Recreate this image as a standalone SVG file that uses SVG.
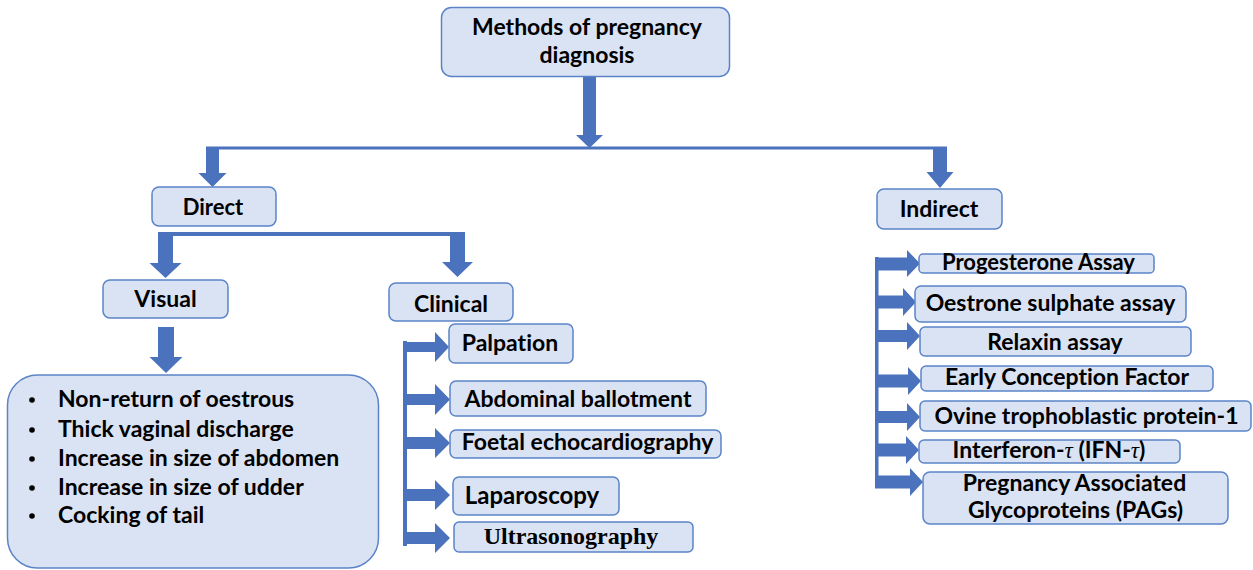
<svg xmlns="http://www.w3.org/2000/svg" width="1253" height="570" viewBox="0 0 1253 570">
<style>
.box{fill:#DAE3F3;stroke:#5B84C8;stroke-width:1.5}
.arr{fill:#4A72BD}
text{font-family:Lato,"Liberation Sans",sans-serif;font-weight:bold;fill:#000;font-size:23px;text-anchor:middle;font-variant-ligatures:none;font-feature-settings:"liga" 0,"clig" 0}
.st{text-anchor:start}
.serif{font-family:"Liberation Serif",serif;font-size:24px}
.tau{font-family:"Liberation Serif",serif;font-style:italic;font-weight:normal}
</style>
<rect width="1253" height="570" fill="#fff"/>
<g id="connectors" class="arr">
<polygon points="583,77 596,77 596,135 603,135 589.5,148 576,135 583,135"/>
<rect x="206" y="146.5" width="741" height="3"/>
<polygon points="206,147 219,147 219,173 226.5,173 212.5,187 198.5,173 206,173"/>
<polygon points="933,147 947,147 947,172 953.5,172 940,188 926.5,172 933,172"/>
<rect x="158" y="232" width="307" height="4"/>
<polygon points="158,232 173,232 173,263 181.5,263 165.5,278 149.5,263 158,263"/>
<polygon points="450,232 465,232 465,262 473,262 457.5,277 442,262 450,262"/>
<polygon points="158,327 174,327 174,357 182.5,357 166,373 149.5,357 158,357"/>
<rect x="403" y="341" width="4" height="205"/>
<polygon points="403,342 435,342 435,332 449,347 435,362 435,352 403,352"/>
<polygon points="403,394 435,394 435,384 450,399.5 435,415 435,405 403,405"/>
<polygon points="403,437 435,437 435,428 450,443 435,458 435,449 403,449"/>
<polygon points="403,489 435,489 435,480 450,495 435,510 435,501 403,501"/>
<polygon points="403,532 435,532 435,523 450,538 435,553 435,544 403,544"/>
<rect x="875" y="257" width="3.5" height="230"/>
<polygon points="875,257.5 907,257.5 907,250 920,263.5 907,277 907,270.5 875,270.5"/>
<polygon points="875,295.5 903,295.5 903,288 916,302 903,316 903,308.5 875,308.5"/>
<polygon points="875,330 907,330 907,322 920,336 907,350 907,342 875,342"/>
<polygon points="875,374.5 908,374.5 908,367 921,381 908,395 908,387.5 875,387.5"/>
<polygon points="875,411 907,411 907,403 920,417 907,431 907,423 875,423"/>
<polygon points="875,443.5 906,443.5 906,436 919,450 906,464 906,456.5 875,456.5"/>
<polygon points="875,475.5 910,475.5 910,468 923,482 910,496 910,488.5 875,488.5"/>
</g>
<g id="n-methods"><rect class="box" x="441.5" y="7.5" width="288" height="69" rx="10"/><text x="587" y="35">Methods of pregnancy</text><text x="587" y="63">diagnosis</text></g>
<g id="n-direct"><rect class="box" x="152" y="187" width="124" height="39" rx="7"/><text x="213" y="215" style="font-size:22px">Direct</text></g>
<g id="n-indirect"><rect class="box" x="877" y="189" width="125" height="40" rx="7"/><text x="939" y="217">Indirect</text></g>
<g id="n-visual"><rect class="box" x="103" y="280" width="125" height="38" rx="7"/><text x="165.5" y="307">Visual</text></g>
<g id="n-clinical"><rect class="box" x="389" y="283" width="124" height="38" rx="7"/><text x="451" y="312">Clinical</text></g>
<g id="n-signs"><rect class="box" x="7.5" y="375" width="371" height="193" rx="30"/>
<text class="st" x="58" y="407">Non-return of oestrous</text>
<text class="st" x="58" y="437">Thick vaginal discharge</text>
<text class="st" x="58" y="466">Increase in size of abdomen</text>
<text class="st" x="58" y="495">Increase in size of udder</text>
<text class="st" x="58" y="523">Cocking of tail</text>
<g fill="#000"><circle cx="32" cy="400" r="2.8"/><circle cx="32" cy="430" r="2.8"/><circle cx="32" cy="459" r="2.8"/><circle cx="32" cy="488" r="2.8"/><circle cx="32" cy="516" r="2.8"/></g>
</g>
<g id="n-palpation"><rect class="box" x="449" y="324" width="124" height="39" rx="6"/><text x="510" y="351">Palpation</text></g>
<g id="n-abdominal"><rect class="box" x="450" y="381" width="256" height="35" rx="6"/><text x="578" y="407">Abdominal ballotment</text></g>
<g id="n-foetal"><rect class="box" x="450" y="430" width="271" height="28" rx="6"/><text x="587.5" y="450">Foetal echocardiography</text></g>
<g id="n-laparoscopy"><rect class="box" x="453" y="477" width="166" height="38" rx="6"/><text x="532" y="504" style="font-size:24px">Laparoscopy</text></g>
<g id="n-ultra"><rect class="box" x="454" y="522" width="239" height="30" rx="5"/><text class="serif" x="571" y="544">Ultrasonography</text></g>
<g id="n-progesterone"><rect class="box" x="919" y="254" width="235" height="19" rx="4"/><text x="1038.5" y="270" style="font-size:22px">Progesterone Assay</text></g>
<g id="n-oestrone"><rect class="box" x="915" y="286" width="271" height="36" rx="6"/><text x="1050.5" y="311">Oestrone sulphate assay</text></g>
<g id="n-relaxin"><rect class="box" x="920" y="327" width="271" height="29" rx="5"/><text x="1055" y="350">Relaxin assay</text></g>
<g id="n-ecf"><rect class="box" x="921" y="366" width="292" height="25" rx="5"/><text x="1067" y="385">Early Conception Factor</text></g>
<g id="n-ovine"><rect class="box" x="920" y="401" width="331" height="30" rx="5"/><text x="1086.5" y="424">Ovine trophoblastic protein-1</text></g>
<g id="n-ifn"><rect class="box" x="919" y="440" width="261" height="23" rx="5"/><text x="1049" y="458">Interferon-<tspan class="tau">τ</tspan> (IFN-<tspan class="tau">τ</tspan>)</text></g>
<g id="n-pags"><rect class="box" x="923" y="472" width="305" height="52" rx="7"/><text x="1074.5" y="491">Pregnancy Associated</text><text x="1075.5" y="518">Glycoproteins (PAGs)</text></g>
</svg>
